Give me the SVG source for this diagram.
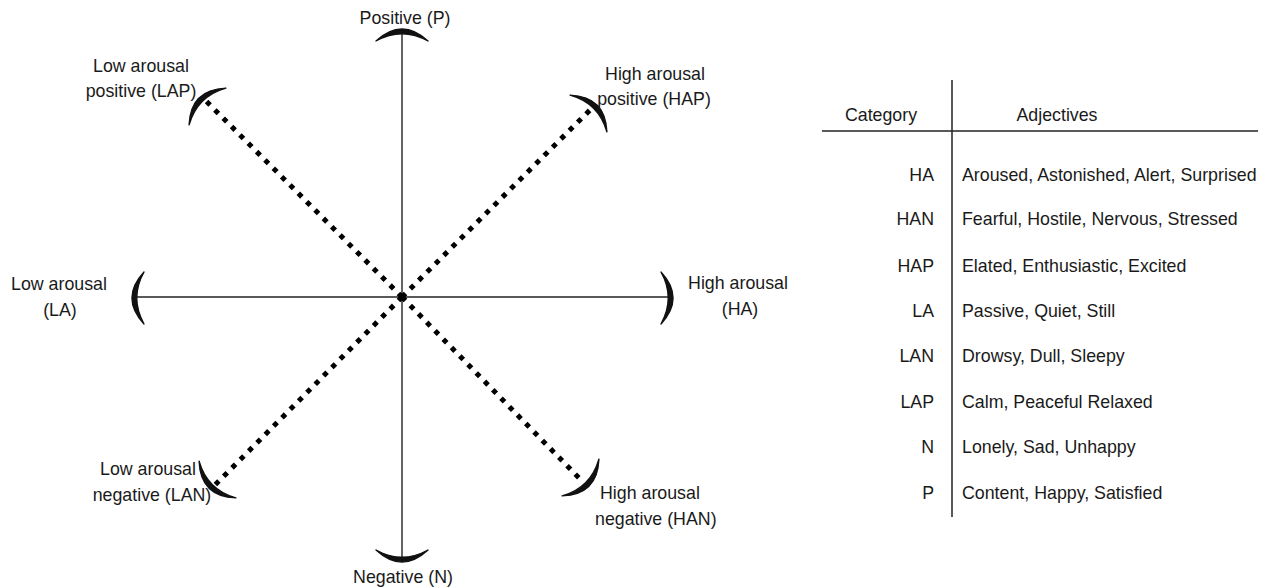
<svg xmlns="http://www.w3.org/2000/svg" width="1271" height="588" viewBox="0 0 1271 588">
  <defs>
    <path id="cres" d="M-26,12 Q0,-12 26,12 Q0,-2.5 -26,12 Z"/>
    <style>
      text { font-family: "Liberation Sans", Arial, sans-serif; font-size: 17.8px; fill: #1a1a1a; }
      .axis { stroke: #222; stroke-width: 1.4; fill: none; }
      .dot { stroke: #000; stroke-width: 5; stroke-dasharray: 5 6.8; fill: none; }
      .arc { fill: #111; stroke: #111; stroke-width: 1.4; stroke-linejoin: round; }
      .tbl { stroke: #222; stroke-width: 1.5; }
      .r { text-anchor: end; }
      .m { text-anchor: middle; }
    </style>
  </defs>
  <rect width="1271" height="588" fill="#fff"/>

  <g id="connectors">
    <line class="axis" x1="402" y1="30" x2="402" y2="561"/>
    <line class="axis" x1="133" y1="297" x2="672" y2="297"/>
    <line class="dot" x1="402" y1="297" x2="206" y2="101"/>
    <line class="dot" x1="402" y1="297" x2="592" y2="108"/>
    <line class="dot" x1="402" y1="297" x2="583" y2="482"/>
    <line class="dot" x1="402" y1="297" x2="215" y2="485"/>
  </g>

  <g id="node-P">
    <use href="#cres" class="arc" transform="translate(402,29)"/>
    <text x="405" y="24" class="m">Positive (P)</text>
  </g>
  <g id="node-N">
    <use href="#cres" class="arc" transform="translate(402,562) rotate(180)"/>
    <text x="403" y="583" class="m">Negative (N)</text>
  </g>
  <g id="node-LA">
    <use href="#cres" class="arc" transform="translate(132,298) rotate(-90)"/>
    <text x="59" y="290" class="m">Low arousal</text>
    <text x="60" y="316" class="m">(LA)</text>
  </g>
  <g id="node-HA">
    <use href="#cres" class="arc" transform="translate(673,298) rotate(90)"/>
    <text x="738" y="289" class="m">High arousal</text>
    <text x="740" y="315" class="m">(HA)</text>
  </g>
  <g id="node-LAP">
    <use href="#cres" class="arc" transform="translate(199,98) rotate(-45)"/>
    <text x="141" y="72" class="m">Low arousal</text>
    <text x="141" y="97" class="m">positive (LAP)</text>
  </g>
  <g id="node-HAP">
    <use href="#cres" class="arc" transform="translate(597,105) rotate(45)"/>
    <text x="655" y="80" class="m">High arousal</text>
    <text x="654" y="105" class="m">positive (HAP)</text>
  </g>
  <g id="node-HAN">
    <use href="#cres" class="arc" transform="translate(589,486) rotate(135)"/>
    <text x="600" y="499">High arousal</text>
    <text x="595" y="525">negative (HAN)</text>
  </g>
  <g id="node-LAN">
    <use href="#cres" class="arc" transform="translate(209,488) rotate(-135)"/>
    <text x="148" y="475" class="m">Low arousal</text>
    <text x="152" y="501" class="m">negative (LAN)</text>
  </g>

  <g id="table">
    <line class="tbl" x1="952" y1="80" x2="952" y2="517"/>
    <line class="tbl" x1="822" y1="131" x2="1258" y2="131"/>
    <text x="881" y="121" class="m">Category</text>
    <text x="1057" y="121" class="m">Adjectives</text>
    <text x="934" y="181" class="r">HA</text>
    <text x="962" y="181">Aroused, Astonished, Alert, Surprised</text>
    <text x="934" y="225" class="r">HAN</text>
    <text x="962" y="225">Fearful, Hostile, Nervous, Stressed</text>
    <text x="934" y="272" class="r">HAP</text>
    <text x="962" y="272">Elated, Enthusiastic, Excited</text>
    <text x="934" y="317" class="r">LA</text>
    <text x="962" y="317">Passive, Quiet, Still</text>
    <text x="934" y="362" class="r">LAN</text>
    <text x="962" y="362">Drowsy, Dull, Sleepy</text>
    <text x="934" y="408" class="r">LAP</text>
    <text x="962" y="408">Calm, Peaceful Relaxed</text>
    <text x="934" y="453" class="r">N</text>
    <text x="962" y="453">Lonely, Sad, Unhappy</text>
    <text x="934" y="499" class="r">P</text>
    <text x="962" y="499">Content, Happy, Satisfied</text>
  </g>
</svg>
